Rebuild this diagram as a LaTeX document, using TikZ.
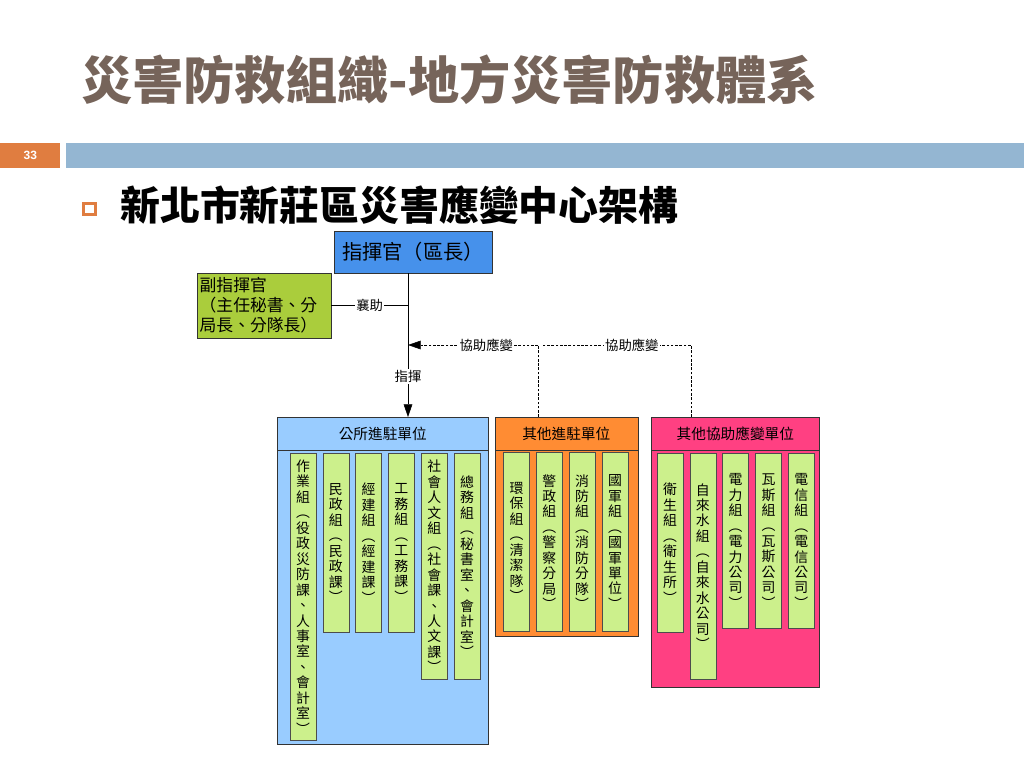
\documentclass[tikz,border=0pt]{standalone}
\usepackage{fontspec}
\setmainfont{Noto Sans CJK TC}
\newfontfamily\numfont{Liberation Sans}
\usetikzlibrary{positioning,arrows.meta}
\definecolor{titlec}{RGB}{118,100,90}
\definecolor{pgorange}{RGB}{224,125,64}
\definecolor{barblue}{RGB}{148,182,210}
\definecolor{cmdblue}{RGB}{70,145,235}
\definecolor{vicegreen}{RGB}{170,205,60}
\definecolor{colgreen}{RGB}{204,240,140}
\definecolor{grpblue}{RGB}{153,204,255}
\definecolor{grporange}{RGB}{255,140,51}
\definecolor{grppink}{RGB}{255,64,130}
\begin{document}
\begin{tikzpicture}[x=0.75pt,y=-0.75pt,
    cmdbox/.style={draw=black!80, fill=cmdblue, minimum width=118.5pt, minimum height=31.5pt, font=\fontsize{15.2}{17}\selectfont},
    vicebox/.style={draw=black!80, fill=vicegreen, minimum width=100.5pt, minimum height=48.75pt, text width=96.5pt, inner sep=2pt, align=left, font=\fontsize{12.6}{15}\selectfont},
    grp/.style={draw=black!80, anchor=north west, inner sep=0pt},
    hdr/.style={draw=black!80, anchor=north, minimum height=24.75pt, inner sep=0pt, font=\fontsize{11}{13}\selectfont},
    unit/.style={draw=black!70, fill=colgreen, minimum width=19.5pt, anchor=north west, outer sep=0pt, inner sep=1pt, align=center, font=\fontsize{10.4}{11.6}\selectfont},
    lbl/.style={fill=white, inner sep=1pt, font=\fontsize{10}{12}\selectfont},
    assist/.style={dash pattern=on 2pt off 1.2pt},
    >={Triangle[length=9.5pt,width=6.5pt]}]
  \useasboundingbox (0,0) rectangle (1024,768);

  % slide header
  \node[anchor=west, inner sep=0pt, text=titlec, font=\fontsize{38.4}{41}\selectfont\bfseries] (title) at (81,80) {災害防救組織-地方災害防救體系};
  \node[fill=pgorange, anchor=north west, minimum width=45pt, minimum height=18.75pt, inner sep=0pt, text=white, font=\numfont\bfseries\fontsize{9}{10}\selectfont] (pgnum) at (0,143) {33};
  \fill[barblue] (66,143) rectangle (1024,168);
  \draw[pgorange, line width=2.25pt] (83.5,203.5) rectangle (95.5,214.5);
  \node[anchor=west, inner sep=0pt, font=\fontsize{29.9}{32}\selectfont\bfseries] (sub) at (120,205) {新北市新莊區災害應變中心架構};

  % command
  \node[cmdbox] (cmd) at (413,252) {指揮官（區長）};
  \node[vicebox] (vice) at (264,305.5) {副指揮官\\（主任秘書、分\\局長、分隊長）};

  % groups
  \node[grp, fill=grpblue, minimum width=158.25pt, minimum height=245.25pt] (grpA) at (277,417) {};
  \node[hdr, fill=grpblue, minimum width=158.25pt] (grpAh) at (grpA.north) {公所進駐單位};
  \node[grp, fill=grporange, minimum width=107.25pt, minimum height=164.25pt, right=4.5pt of grpA.north east, anchor=north west] (grpB) {};
  \node[hdr, fill=grporange, minimum width=107.25pt] (grpBh) at (grpB.north) {其他進駐單位};
  \node[grp, fill=grppink, minimum width=126pt, minimum height=202.5pt, right=9.75pt of grpB.north east, anchor=north west] (grpC) {};
  \node[hdr, fill=grppink, minimum width=126pt] (grpCh) at (grpC.north) {其他協助應變單位};

  % units
  \node[unit, minimum height=215.25pt, below right=2.25pt and 9.75pt of grpAh.south west] (a1) {作\\業\\組\\︵\\役\\政\\災\\防\\課\\、\\人\\事\\室\\、\\會\\計\\室\\︶};
  \node[unit, minimum height=134.25pt, right=5.1pt of a1.north east, anchor=north west] (a2) {民\\政\\組\\︵\\民\\政\\課\\︶};
  \node[unit, minimum height=134.25pt, right=5.1pt of a2.north east, anchor=north west] (a3) {經\\建\\組\\︵\\經\\建\\課\\︶};
  \node[unit, minimum height=134.25pt, right=5.1pt of a3.north east, anchor=north west] (a4) {工\\務\\組\\︵\\工\\務\\課\\︶};
  \node[unit, minimum height=169.5pt, right=5.1pt of a4.north east, anchor=north west] (a5) {社\\會\\人\\文\\組\\︵\\社\\會\\課\\、\\人\\文\\課\\︶};
  \node[unit, minimum height=169.5pt, right=5.1pt of a5.north east, anchor=north west] (a6) {總\\務\\組\\︵\\秘\\書\\室\\、\\會\\計\\室\\︶};

  \node[unit, minimum height=134.25pt, below right=1.5pt and 6.75pt of grpBh.south west] (b1) {環\\保\\組\\︵\\清\\潔\\隊\\︶};
  \node[unit, minimum height=134.25pt, right=5.1pt of b1.north east, anchor=north west] (b2) {警\\政\\組\\︵\\警\\察\\分\\局\\︶};
  \node[unit, minimum height=134.25pt, right=5.1pt of b2.north east, anchor=north west] (b3) {消\\防\\組\\︵\\消\\防\\分\\隊\\︶};
  \node[unit, minimum height=134.25pt, right=5.1pt of b3.north east, anchor=north west] (b4) {國\\軍\\組\\︵\\國\\軍\\單\\位\\︶};

  \node[unit, minimum height=134.25pt, below right=2.25pt and 4.5pt of grpCh.south west] (c1) {衛\\生\\組\\︵\\衛\\生\\所\\︶};
  \node[unit, minimum height=169.5pt, right=5.1pt of c1.north east, anchor=north west] (c2) {自\\來\\水\\組\\︵\\自\\來\\水\\公\\司\\︶};
  \node[unit, minimum height=131.25pt, right=5.1pt of c2.north east, anchor=north west] (c3) {電\\力\\組\\︵\\電\\力\\公\\司\\︶};
  \node[unit, minimum height=131.25pt, right=5.1pt of c3.north east, anchor=north west] (c4) {瓦\\斯\\組\\︵\\瓦\\斯\\公\\司\\︶};
  \node[unit, minimum height=131.25pt, right=5.1pt of c4.north east, anchor=north west] (c5) {電\\信\\組\\︵\\電\\信\\公\\司\\︶};

  % connectors
  \coordinate (jA) at (408,305.5);
  \coordinate (jB) at (408,345);
  \coordinate (jC) at (543,345);
  \draw[->] (cmd.south -| jA) -- node[lbl, pos=0.72] {指揮} (grpAh.north -| jA);
  \draw (vice.east) -- node[lbl] {襄助} (jA);
  \draw[assist, ->] ([xshift=33pt]grpBh.north west) |- node[lbl, pos=0.7] {協助應變} (jB);
  \draw[assist] ([xshift=30pt]grpCh.north west) |- node[lbl, pos=0.7] {協助應變} (jC);
\end{tikzpicture}
\end{document}
